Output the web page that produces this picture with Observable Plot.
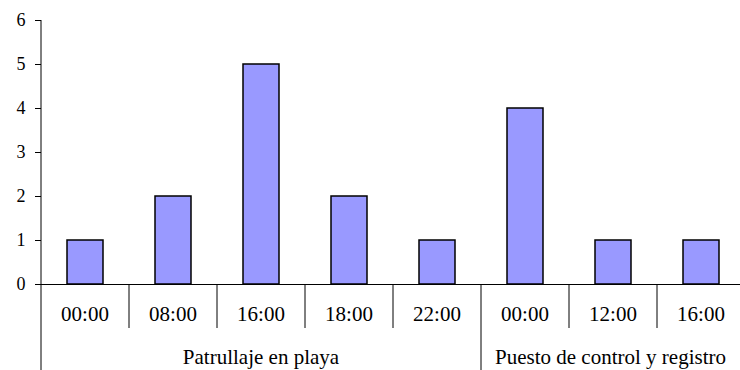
<!DOCTYPE html>
<html>
<head>
<meta charset="utf-8">
<script src="https://cdn.jsdelivr.net/npm/d3@7"></script>
<script src="https://cdn.jsdelivr.net/npm/@observablehq/plot@0.6"></script>
<style>
  html, body { margin: 0; padding: 0; background: white; }
  #chart { width: 740px; height: 370px; }
  #chart svg, #chart svg text { font-family: "Liberation Serif", "Times New Roman", serif !important; }
</style>
</head>
<body>
<div id="chart"></div>
<script>
const groupNames = ["Patrullaje en playa", "Puesto de control y registro"];
const times = ["00:00", "08:00", "16:00", "18:00", "22:00", "00:00", "12:00", "16:00"];
const groupOf = [0, 0, 0, 0, 0, 1, 1, 1];
const counts = [1, 2, 5, 2, 1, 4, 1, 1];
const yTicks = [0, 1, 2, 3, 4, 5, 6];

const data = times.map((t, i) => ({
  key: groupNames[groupOf[i]] + " " + t,
  time: t,
  group: groupNames[groupOf[i]],
  count: counts[i]
}));
const keys = data.map(d => d.key);

const W = 740, H = 370;
const plot = Plot.plot({
  width: W,
  height: H,
  marginLeft: 41,
  marginRight: 0,
  marginTop: 20,
  marginBottom: 86,
  style: { fontFamily: "'Liberation Serif', serif", background: "white", color: "black" },
  x: { type: "band", domain: keys, range: [41, 745], paddingInner: 0.59, paddingOuter: 0.295, axis: null },
  y: { domain: [0, 6] },
  marks: [
    Plot.barY(data, { x: "key", y: "count", fill: "#9999FF", stroke: "black", strokeWidth: 1.5 }),
    Plot.ruleY([0], { stroke: "black" }),
    Plot.axisY({ ticks: yTicks, tickSize: 6, tickFormat: () => "", label: null }),
    Plot.text(yTicks, { y: d => d, text: d => String(d), frameAnchor: "left", dx: -16, textAnchor: "end", fontSize: 18, fill: "black" })
  ]
});
document.getElementById("chart").appendChild(plot);

// Two-level category axis built from the x and y scales
const xs = plot.scale("x");
const ys = plot.scale("y");
const bw = xs.bandwidth;
const step = xs.apply(keys[1]) - xs.apply(keys[0]);
const half = (step - bw) / 2;
const y0 = ys.apply(0);
const yTop = ys.apply(6);
const g = d3.select(plot).append("g")
  .attr("stroke", "black").attr("fill", "black");

const leftEdge = k => xs.apply(k) - half;
const rightEdge = k => xs.apply(k) + bw + half;

// y axis line
g.append("line").attr("x1", leftEdge(keys[0])).attr("x2", leftEdge(keys[0]))
  .attr("y1", yTop).attr("y2", y0).attr("stroke-width", 1);

data.forEach((d, i) => {
  const isGroupStart = i === 0 || data[i - 1].group !== d.group;
  const x = leftEdge(d.key);
  g.append("line").attr("x1", x).attr("x2", x)
    .attr("y1", y0).attr("y2", isGroupStart ? H : y0 + 44).attr("stroke-width", 1);
  g.append("text")
    .attr("x", xs.apply(d.key) + bw / 2)
    .attr("y", y0 + 37)
    .attr("text-anchor", "middle")
    .attr("stroke", "none")
    .style("font-size", "21px")
    .text(d.time);
});
const last = keys[keys.length - 1];
g.append("line").attr("x1", rightEdge(last)).attr("x2", rightEdge(last))
  .attr("y1", y0).attr("y2", H).attr("stroke-width", 1);

groupNames.forEach(name => {
  const ks = data.filter(d => d.group === name).map(d => d.key);
  const a = Math.max(leftEdge(ks[0]), 41);
  const b = Math.min(rightEdge(ks[ks.length - 1]), W);
  g.append("text")
    .attr("x", (a + b) / 2)
    .attr("y", y0 + 80)
    .attr("text-anchor", "middle")
    .attr("stroke", "none")
    .style("font-size", "21px")
    .text(name);
});
</script>
</body>
</html>
